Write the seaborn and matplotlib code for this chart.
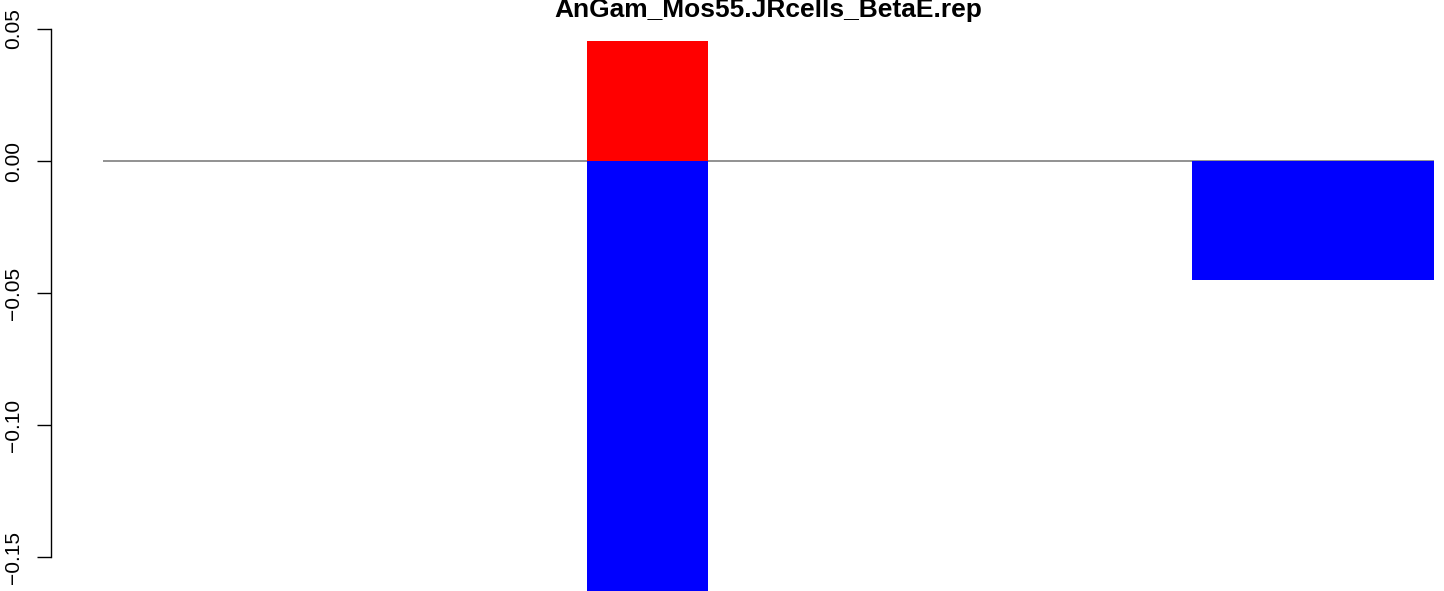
import matplotlib
matplotlib.use("Agg")
import matplotlib.pyplot as plt
import seaborn as sns
import pandas as pd
from matplotlib.ticker import FixedLocator, FuncFormatter

# Dados (barras empilhadas: positivo em vermelho, negativo em azul)
titulo = "AnGam_Mos55.JRcells_BetaE.rep"
categorias = [str(i) for i in range(1, 12)]
valores_pos = [0, 0, 0, 0, 0.0455, 0, 0, 0, 0, 0, 0]
valores_neg = [0, 0, 0, 0, -0.166, 0, 0, 0, 0, -0.045, -0.045]
yticks = [-0.15, -0.10, -0.05, 0.00, 0.05]

sns.set_theme(style="white")
plt.rcParams['font.family'] = ['Liberation Sans', 'DejaVu Sans']

df = pd.DataFrame({'cat': categorias, 'pos': valores_pos, 'neg': valores_neg})

fig = plt.figure(figsize=(14.44, 5.91), dpi=100)
ax = fig.add_axes([51 / 1444, 0, 1 - 51 / 1444, 1])

# linha do zero por trás das barras
ax.hlines(0, -0.5, len(categorias) - 0.5, color='#7f7f7f', linewidth=1.2, zorder=0.5)

sns.barplot(data=df, x='cat', y='pos', order=categorias, color='#FF0000',
            saturation=1, width=1, linewidth=0, ax=ax)
sns.barplot(data=df, x='cat', y='neg', order=categorias, color='#0000FF',
            saturation=1, width=1, linewidth=0, ax=ax)

# escala: 0.05 em y=29px, -0.15 em y=557px
ppu = (557 - 29) / 0.20
ax.set_ylim(-0.15 - (591 - 557) / ppu, 0.05 + 29 / ppu)
ax.set_xlim(-0.5 - 52 / 121, len(categorias) - 0.5 + 10 / 121)

ax.yaxis.set_major_locator(FixedLocator(yticks))
ax.yaxis.set_major_formatter(FuncFormatter(lambda v, p: f'{v:.2f}'.replace('-', '\u2212')))
ax.tick_params(axis='y', left=True, length=10, width=1, color='black', pad=10,
               labelsize=15, labelcolor='black')
for lab in ax.get_yticklabels():
    lab.set_rotation(90)
    lab.set_va('center')

ax.set_xticks([])
ax.set_xlabel('')
ax.set_ylabel('')
for s in ['top', 'right', 'bottom']:
    ax.spines[s].set_visible(False)
ax.spines['left'].set_bounds(-0.15, 0.05)
ax.spines['left'].set_color('black')
ax.spines['left'].set_linewidth(1)
ax.grid(False)

fig.text(768 / 1444, 1 - 17 / 591, titulo, ha='center', va='baseline',
         fontsize=19, fontweight='bold', color='black')

fig.savefig('out.png', dpi=100)
